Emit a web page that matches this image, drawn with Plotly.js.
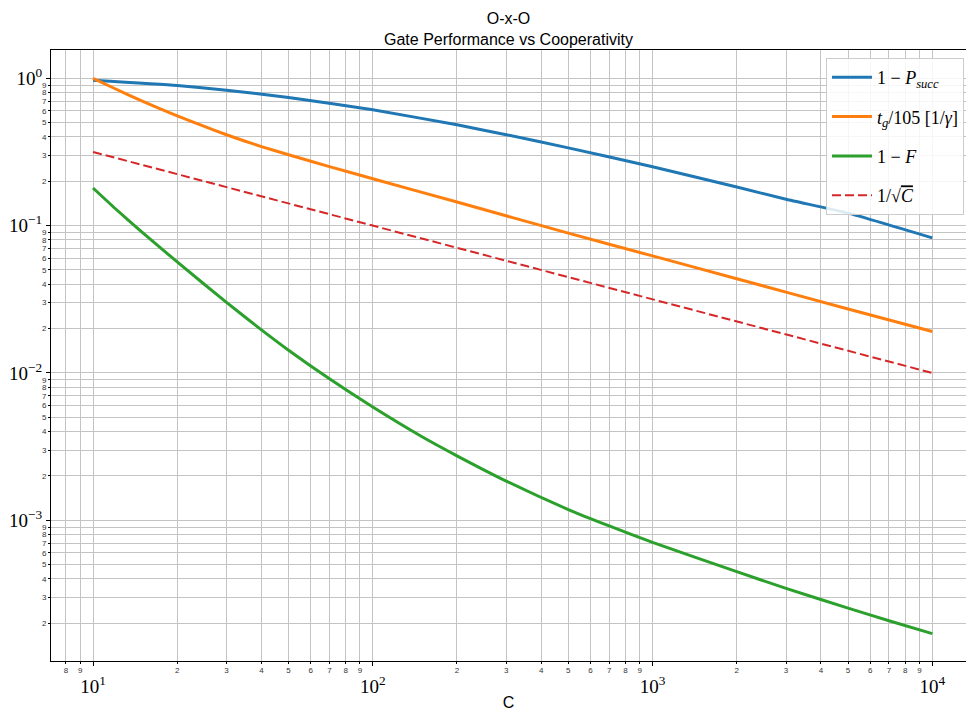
<!DOCTYPE html>
<html>
<head>
<meta charset="utf-8">
<script src="https://cdn.plot.ly/plotly-3.0.1.min.js"></script>
<style>html,body{margin:0;padding:0;background:#fff;}#chart{width:966px;height:718px;}</style>
</head>
<body>
<div id="chart"></div>
<script>
// ---- data ----
const cBlue   = [10, 20, 30, 50, 100, 200, 300, 500, 1000, 2000, 3000, 5000, 10000];
const pSucc   = [0.970, 0.893, 0.830, 0.741, 0.611, 0.483, 0.414, 0.337, 0.251, 0.183, 0.151, 0.1216, 0.0826];

const cOrange = [10, 12, 15, 20, 25, 30, 35, 40, 50, 70, 100, 200, 500, 1000, 2000, 5000, 10000];
const tGate   = [1.0, 0.849, 0.700, 0.556, 0.471, 0.414, 0.374, 0.344, 0.303, 0.2516, 0.2079, 0.1445, 0.0889, 0.0623, 0.0436, 0.0272, 0.0191];

const cGreen  = [10, 12, 15, 20, 30, 40, 50, 70, 100, 150, 200, 300, 500, 700, 1000, 2000, 3000, 5000, 7000, 10000];
const infid   = [0.180, 0.1307, 0.0899, 0.0567, 0.0301, 0.0196, 0.01426, 0.00912, 0.00587, 0.00369, 0.00274, 0.001845, 0.001183, 0.000916, 0.000708, 0.000448, 0.000345, 0.0002535, 0.000208, 0.000170];

const cRed    = [10, 100, 1000, 10000];
const invSqrt = [0.3162, 0.1, 0.03162, 0.01];

const seriesNames = [
  "1 − <i>P</i><sub><i>succ</i></sub>",
  "<i>t</i><sub><i>g</i></sub>/105 [1/<i>γ</i>]",
  "1 − <i>F</i>",
  "1/√<span style=\"text-decoration:overline\"><i>C</i></span>"
];

const xMajorVals = [10, 100, 1000, 10000];
const xMajorText = ["10<sup>1</sup>", "10<sup>2</sup>", "10<sup>3</sup>", "10<sup>4</sup>"];
const xMinorVals = [8, 9, 20, 30, 40, 50, 60, 70, 80, 90, 200, 300, 400, 500, 600, 700, 800, 900, 2000, 3000, 4000, 5000, 6000, 7000, 8000, 9000];
const xMinorText = ["8", "9", "2", "3", "4", "5", "6", "7", "8", "9", "2", "3", "4", "5", "6", "7", "8", "9", "2", "3", "4", "5", "6", "7", "8", "9"];

const yMajorVals = [1, 0.1, 0.01, 0.001];
const yMajorText = ["10<sup>0</sup>", "10<sup>−1</sup>", "10<sup>−2</sup>", "10<sup>−3</sup>"];
const yMinorVals = [0.2, 0.3, 0.4, 0.5, 0.6, 0.7, 0.8, 0.9,
                    0.02, 0.03, 0.04, 0.05, 0.06, 0.07, 0.08, 0.09,
                    0.002, 0.003, 0.004, 0.005, 0.006, 0.007, 0.008, 0.009,
                    0.0002, 0.0003, 0.0004, 0.0005, 0.0006, 0.0007, 0.0008, 0.0009];
const yMinorText = ["2", "3", "4", "5", "6", "7", "8", "9",
                    "2", "3", "4", "5", "6", "7", "8", "9",
                    "2", "3", "4", "5", "6", "7", "8", "9",
                    "2", "3", "4", "5", "6", "7", "8", "9"];

// ---- styling ----
const GRID = '#c4c4c4';
const XR = [0.8498, 4.1205];
const YR = [-3.955, 0.192];
const serif = 'Liberation Serif, DejaVu Serif, serif';
const sans = 'Liberation Sans, Arial, sans-serif';

const traces = [
  {x: cBlue, y: pSucc, name: seriesNames[0], legendgroup: 'a', mode: 'lines', line: {color: '#1f77b4', width: 3, shape: 'spline', smoothing: 0.5}},
  {x: cOrange, y: tGate, name: seriesNames[1], legendgroup: 'b', mode: 'lines', line: {color: '#ff7f0e', width: 3, shape: 'spline', smoothing: 0.5}},
  {x: cGreen, y: infid, name: seriesNames[2], legendgroup: 'c', mode: 'lines', line: {color: '#2ca02c', width: 3, shape: 'spline', smoothing: 0.5}},
  {x: cRed, y: invSqrt, name: seriesNames[3], legendgroup: 'd', mode: 'lines', line: {color: '#d62728', width: 2, dash: '9px,4px'}},
  // carriers for the minor-label axes
  {x: [100], y: [0.1], xaxis: 'x2', yaxis: 'y', mode: 'markers', marker: {opacity: 0}, showlegend: false, hoverinfo: 'skip'},
  {x: [100], y: [0.1], xaxis: 'x', yaxis: 'y2', mode: 'markers', marker: {opacity: 0}, showlegend: false, hoverinfo: 'skip'}
];

const layout = {
  width: 966, height: 718,
  margin: {l: 51, r: 0, t: 50, b: 57, pad: 0},
  paper_bgcolor: '#fff', plot_bgcolor: '#fff',
  hovermode: false,
  title: {
    text: 'O-x-O<br>Gate Performance vs Cooperativity',
    font: {family: sans, size: 16, color: '#000'},
    xref: 'paper', x: 0.5, xanchor: 'center',
    yref: 'container', y: 0.966, yanchor: 'top'
  },
  xaxis: {
    type: 'log', range: XR, autorange: false,
    tickmode: 'array', tickvals: xMajorVals, ticktext: xMajorText,
    tickfont: {family: serif, size: 19, color: '#000'},
    ticks: 'outside', ticklen: 4, tickwidth: 1, tickcolor: '#000',
    ticklabelstandoff: 4,
    showgrid: true, gridcolor: GRID, gridwidth: 1,
    showline: true, linecolor: '#000', linewidth: 1, mirror: true,
    zeroline: false, automargin: false,
    title: {text: 'C', font: {family: sans, size: 16, color: '#000'}, standoff: 1}
  },
  xaxis2: {
    type: 'log', range: XR, autorange: false, overlaying: 'x', anchor: 'y', side: 'bottom',
    tickmode: 'array', tickvals: xMinorVals, ticktext: xMinorText,
    tickfont: {family: sans, size: 8, color: '#333'},
    ticks: 'outside', ticklen: 2, tickwidth: 1, tickcolor: '#000',
    ticklabelstandoff: -1,
    showgrid: true, gridcolor: GRID, gridwidth: 1,
    showline: false, zeroline: false, automargin: false
  },
  yaxis: {
    type: 'log', range: YR, autorange: false,
    tickmode: 'array', tickvals: yMajorVals, ticktext: yMajorText,
    tickfont: {family: serif, size: 19, color: '#000'},
    ticks: 'outside', ticklen: 4, tickwidth: 1, tickcolor: '#000',
    ticklabelstandoff: 0,
    showgrid: true, gridcolor: GRID, gridwidth: 1,
    showline: true, linecolor: '#000', linewidth: 1, mirror: false,
    zeroline: false, automargin: false
  },
  yaxis2: {
    type: 'log', range: YR, autorange: false, overlaying: 'y', anchor: 'x', side: 'left',
    tickmode: 'array', tickvals: yMinorVals, ticktext: yMinorText,
    tickfont: {family: sans, size: 8, color: '#333'},
    ticks: 'outside', ticklen: 2, tickwidth: 1, tickcolor: '#000',
    showgrid: true, gridcolor: GRID, gridwidth: 1,
    showline: false, zeroline: false, automargin: false
  },
  showlegend: true,
  legend: {
    x: 0.9978, xanchor: 'right', y: 0.987, yanchor: 'top',
    bgcolor: 'rgba(255,255,255,0.85)', bordercolor: '#cccccc', borderwidth: 1,
    font: {family: serif, size: 18, color: '#000'},
    itemwidth: 40, tracegroupgap: 13, traceorder: 'grouped'
  }
};

Plotly.newPlot('chart', traces, layout, {staticPlot: true, displayModeBar: false});
</script>
</body>
</html>
